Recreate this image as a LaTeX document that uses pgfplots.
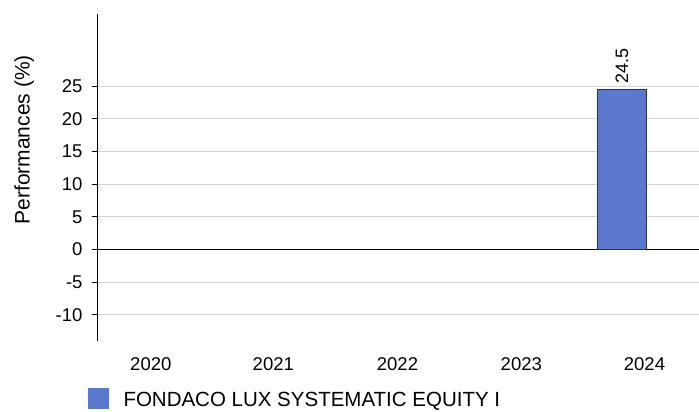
\documentclass[border=0pt]{standalone}
\usepackage{pgfplots}
\pgfplotsset{compat=1.18}
\usepackage{fontspec}
\setmainfont{Liberation Sans}
\definecolor{barblue}{RGB}{91,121,204}
\definecolor{gridgray}{RGB}{210,210,210}
\begin{document}
\begin{tikzpicture}[x=1pt,y=1pt]
\path[use as bounding box] (0,0) rectangle (699,412);
\begin{axis}[
  at={(97pt,71pt)}, anchor=south west,
  scale only axis, width=602pt, height=327pt,
  xmin=97, xmax=699, ymin=-14, ymax=36,
  xtick={150.8,273.3,397.5,521.3,644.5}, xticklabels={2020,2021,2022,2023,2024},
  ytick={-10,-5,0,5,10,15,20,25},
  axis x line=bottom, axis y line=left,
  x axis line style={draw=none},
  y axis line style={-, black, line width=0.8pt},
  major x tick style={draw=none},
  major y tick style={black, line width=0.8pt},
  tick align=outside, major tick length=5pt,
  ymajorgrids, grid style={gridgray, line width=0.8pt},
  /pgf/number format/assume math mode=true,
  ticklabel style={font=\fontsize{18.5}{21}\selectfont},
  yticklabel style={xshift=-6pt},
  xticklabel style={yshift=-8pt},
  ylabel={Performances (\%)},
  ylabel style={at={(axis description cs:-0.121,0.615)}, anchor=center, font=\fontsize{21}{24}\selectfont},
  legend style={at={(axis cs:88.3,-22.8)}, anchor=west, draw=none, fill=none, inner sep=0pt, font=\fontsize{20.5}{24}\selectfont},
  legend cell align=left,
  legend image code/.code={\fill[barblue, draw=none] (0pt,-9pt) rectangle (21pt,12pt); \path[draw=none, fill=none] (0pt,0pt) rectangle (33pt,1pt);},
  nodes near coords,
  nodes near coords style={rotate=90, anchor=west, font=\fontsize{18}{21}\selectfont, xshift=2pt},
]
\draw[black, line width=1pt] (axis cs:97,0) -- (axis cs:699,0);
\addplot[ybar, fill=barblue, draw=black!80, line width=0.8pt, bar width=49pt] coordinates {(622,24.5)};
\addlegendentry{FONDACO LUX SYSTEMATIC EQUITY I}
\end{axis}
\end{tikzpicture}
\end{document}
